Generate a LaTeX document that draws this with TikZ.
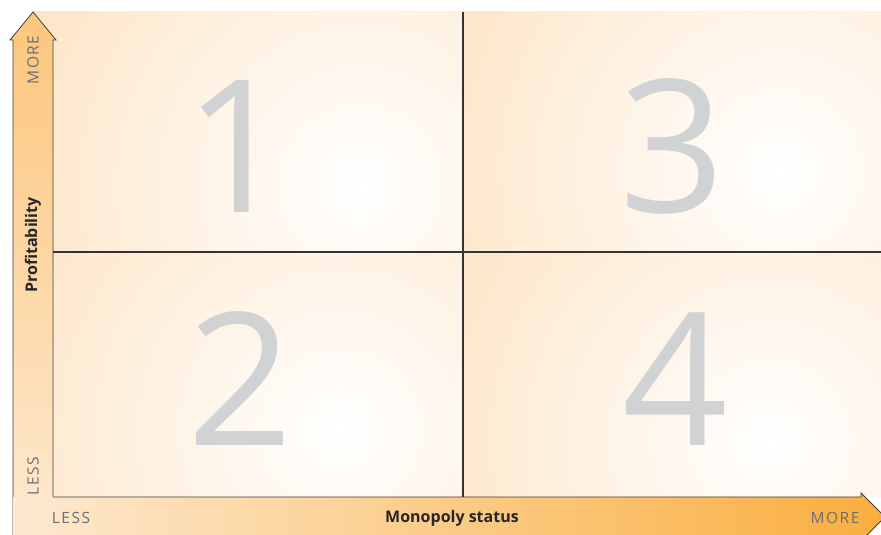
\documentclass[tikz,border=0pt]{standalone}
\usepackage{fontspec}
\newfontfamily\labelfont{Open Sans}
\newfontfamily\axisfont[LetterSpace=10]{Open Sans}
\newfontfamily\digitfont{Open Sans}
\usetikzlibrary{positioning}
\definecolor{peach}{HTML}{FDE3C2}
\definecolor{arrowtop}{HTML}{FCC67C}
\definecolor{arrowlight}{HTML}{FDE9D0}
\definecolor{arrowright}{HTML}{FAAE3E}
\definecolor{digitgray}{HTML}{D1D2D4}
\definecolor{tickgray}{HTML}{6D6E71}

\begin{document}
\begin{tikzpicture}[
		x=1pt, y=1pt,
		every node/.style={inner sep=0pt},
		digit/.style={font=\digitfont\fontsize{185}{185}\selectfont, text=digitgray},
		axislabel/.style={font=\axisfont\fontsize{15.5}{15.5}\selectfont, text=tickgray},
		axistitle/.style={font=\labelfont\bfseries\fontsize{16}{16}\selectfont, text=black!85},
		divider/.style={line width=1.2pt, draw=black!80},
		outline/.style={line width=0.8pt, draw=black!75},
		glow/.style={inner color=white, outer color=peach}
	]
	\useasboundingbox (0,0) rectangle (881,535);

	% corners of the quadrant field
	\coordinate (sw) at (53,38);
	\coordinate (ne) at (881,523);
	\coordinate (mid) at (463,283);

	% the four quadrants, each with its own light spot
	\foreach \xa/\ya/\xb/\yb/\gx/\gy in {
			33/283/463/523/360/350,
			463/283/881/523/780/365,
			33/38/463/283/340/105,
			463/38/881/283/770/95} {
			\begin{scope}
				\clip (\xa,\ya) rectangle (\xb,\yb);
				\fill[peach] (\xa,\ya) rectangle (\xb,\yb);
				\shade[glow] (\gx,\gy) circle (400);
			\end{scope}
		}

	% vertical arrow (profitability)
	\shade[top color=arrowtop, bottom color=arrowlight]
	(13,-2) -- (13,495) -- (10,495) -- (33,523) -- (56,495) -- (53,495) -- (53,-2) -- cycle;
	\draw[outline]
	(13,-2) -- (13,495) -- (10,495) -- (33,523) -- (56,495) -- (53,495) -- (sw);

	% horizontal arrow (monopoly status)
	\shade[left color=arrowlight, right color=arrowright]
	(13,-2) -- (13,38) -- (861,38) -- (861,42) -- (885,18) -- (861,-6) -- (861,-2) -- cycle;
	\draw[outline]
	(sw) -- (861,38) -- (861,42) -- (885,18) -- (861,-6);

	% dividers
	\draw[divider] (mid |- sw) -- (mid |- ne);
	\draw[divider] (sw |- mid) -- (ne |- mid);

	% quadrant numbers
	\node[digit] (q1) at (237,389) {1};
	\node[digit] (q3) at (672,389) {3};
	\node[digit] (q2) at (240,156) {2};
	\node[digit] (q4) at (675,156) {4};

	% axis texts
	\node[axislabel, rotate=90] (ymore) at (33,475) {MORE};
	\node[axislabel, rotate=90] (yless) at (33,59) {LESS};
	\node[axistitle, rotate=90] (ytitle) at (33,290) {Profitability};
	\node[axislabel] (xless) at (71,17) {LESS};
	\node[axistitle] (xtitle) at (452,17) {Monopoly status};
	\node[axislabel] (xmore) at (835,17) {MORE};
\end{tikzpicture}
\end{document}
